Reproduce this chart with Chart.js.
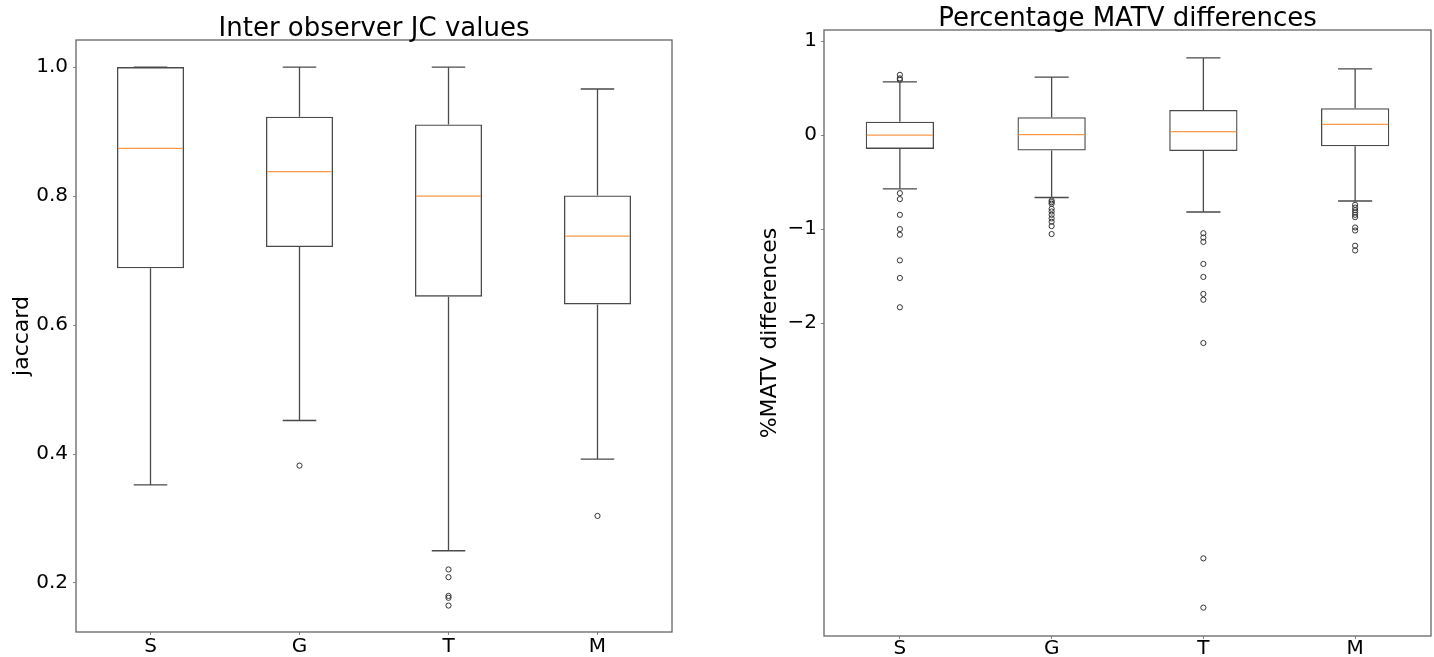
<!DOCTYPE html>
<html>
<head>
<meta charset="utf-8">
<script src="https://cdn.jsdelivr.net/npm/chart.js@4.4.1/dist/chart.umd.min.js"></script>
<style>
  html, body { margin: 0; padding: 0; background: #fff; overflow: hidden; }
  canvas { position: absolute; top: 0; }
  #jcChart { left: 0; }
  #matvChart { left: 717px; }
</style>
</head>
<body>
<canvas id="jcChart" width="717" height="657"></canvas>
<canvas id="matvChart" width="740" height="657"></canvas>
<script>
const categories = ['S', 'G', 'T', 'M'];

// Inter observer JC values
const jcQ1 = [0.688, 0.721, 0.644, 0.632];
const jcQ3 = [1.000, 0.923, 0.911, 0.801];
const jcMedian = [0.874, 0.838, 0.800, 0.738];
const jcWhiskerLow = [0.352, 0.452, 0.250, 0.392];
const jcWhiskerHigh = [1.000, 1.000, 1.000, 0.966];
const jcOutliers = [
  [],
  [0.382],
  [0.221, 0.209, 0.180, 0.177, 0.165],
  [0.304]
];
const jcTicks = [0.2, 0.4, 0.6, 0.8, 1.0];
const jcTickLabels = ['0.2', '0.4', '0.6', '0.8', '1.0'];

// Percentage MATV differences
const matvQ1 = [-0.145, -0.163, -0.167, -0.117];
const matvQ3 = [0.144, 0.191, 0.269, 0.287];
const matvMedian = [0.002, 0.007, 0.038, 0.117];
const matvWhiskerLow = [-0.571, -0.662, -0.816, -0.699];
const matvWhiskerHigh = [0.569, 0.619, 0.824, 0.707];
const matvOutliers = [
  [0.643, 0.605, 0.590, -0.616, -0.679, -0.846, -0.998, -1.058, -1.331, -1.518, -1.830],
  [-0.694, -0.711, -0.729, -0.782, -0.811, -0.846, -0.885, -0.920, -0.966, -1.051],
  [-1.042, -1.088, -1.134, -1.369, -1.507, -1.688, -1.750, -2.210, -4.501, -5.025],
  [-0.740, -0.769, -0.797, -0.822, -0.846, -0.871, -0.981, -1.013, -1.175, -1.225]
];
const matvTicks = [-2, -1, 0, 1];
const matvTickLabels = ['\u22122', '\u22121', '0', '1'];

const FONT = "'DejaVu Sans', sans-serif";
const LINE = '#4a4a4a';

// whiskers, caps, medians, the frame and the title
function boxExtras(cfg) {
  return {
    id: 'boxExtras',
    afterDatasetsDraw(chart) {
      const ctx = chart.ctx;
      const y = chart.scales.y;
      const area = chart.chartArea;
      const bars = chart.getDatasetMeta(0).data;
      ctx.save();
      bars.forEach((bar, i) => {
        const cx = bar.x, half = bar.width / 2, cap = bar.width / 4;
        const hi = y.getPixelForValue(cfg.hi[i]);
        const lo = y.getPixelForValue(cfg.lo[i]);
        ctx.strokeStyle = LINE;
        ctx.lineWidth = 1.3;
        ctx.beginPath();
        ctx.moveTo(cx, y.getPixelForValue(cfg.q3[i]));
        ctx.lineTo(cx, hi);
        ctx.moveTo(cx, y.getPixelForValue(cfg.q1[i]));
        ctx.lineTo(cx, lo);
        ctx.moveTo(cx - cap, hi);
        ctx.lineTo(cx + cap, hi);
        ctx.moveTo(cx - cap, lo);
        ctx.lineTo(cx + cap, lo);
        ctx.stroke();
        const med = y.getPixelForValue(cfg.median[i]);
        ctx.strokeStyle = '#fb9a4a';
        ctx.beginPath();
        ctx.moveTo(cx - half + 1, med);
        ctx.lineTo(cx + half - 1, med);
        ctx.stroke();
      });
      ctx.strokeStyle = '#666';
      ctx.lineWidth = 1.3;
      ctx.strokeRect(area.left, area.top, area.right - area.left, area.bottom - area.top);
      ctx.fillStyle = '#000';
      ctx.font = '26px ' + FONT;
      ctx.textAlign = 'center';
      ctx.textBaseline = 'alphabetic';
      ctx.fillText(cfg.title, (area.left + area.right) / 2, area.top - 4);
      ctx.restore();
    }
  };
}

function outlierPoints(lists) {
  const pts = [];
  lists.forEach((vals, i) => vals.forEach(v => pts.push({ x: categories[i], y: v })));
  return pts;
}

function makeChart(id, cfg) {
  new Chart(document.getElementById(id), {
    type: 'bar',
    data: {
      labels: categories,
      datasets: [{
        data: cfg.q1.map((v, i) => [v, cfg.q3[i]]),
        backgroundColor: 'rgba(0,0,0,0)',
        borderColor: LINE,
        borderWidth: 1.3,
        borderSkipped: false,
        barPercentage: 0.45,
        categoryPercentage: 1
      }, {
        type: 'line',
        data: outlierPoints(cfg.outliers),
        showLine: false,
        pointRadius: 2.6,
        pointBorderWidth: 1,
        pointBorderColor: '#333',
        pointBackgroundColor: 'rgba(0,0,0,0)'
      }]
    },
    options: {
      responsive: false,
      animation: false,
      layout: { padding: cfg.padding },
      plugins: { legend: { display: false }, tooltip: { enabled: false } },
      scales: {
        x: {
          offset: true,
          grid: { offset: false, drawOnChartArea: false, tickLength: 3, tickColor: '#888' },
          border: { display: false },
          ticks: { font: { family: FONT, size: 20 }, color: '#000', padding: cfg.xPad },
          afterFit: s => { s.height = cfg.xHeight; }
        },
        y: {
          min: cfg.min,
          max: cfg.max,
          grid: { drawOnChartArea: false, tickLength: 3, tickColor: '#888' },
          border: { display: false },
          afterBuildTicks: s => { s.ticks = cfg.ticks.map(v => ({ value: v })); },
          ticks: {
            font: { family: FONT, size: 20 },
            color: '#000',
            padding: cfg.yPad,
            callback: (v, idx) => cfg.tickLabels[idx]
          },
          title: {
            display: true,
            text: cfg.yTitle,
            font: { family: FONT, size: 22 },
            color: '#000',
            padding: { top: cfg.yTitlePad, bottom: 0 }
          },
          afterFit: s => { s.width = cfg.yWidth; }
        }
      }
    },
    plugins: [boxExtras(cfg)]
  });
}

makeChart('jcChart', {
  title: 'Inter observer JC values',
  yTitle: 'jaccard',
  q1: jcQ1, q3: jcQ3, median: jcMedian, lo: jcWhiskerLow, hi: jcWhiskerHigh,
  outliers: jcOutliers,
  ticks: jcTicks, tickLabels: jcTickLabels,
  min: 0.124, max: 1.042,
  padding: { top: 40, right: 45, left: 0, bottom: 0 },
  xHeight: 25, yWidth: 76, yTitlePad: 9, xPad: 0, yPad: 5
});

makeChart('matvChart', {
  title: 'Percentage MATV differences',
  yTitle: '%MATV differences',
  q1: matvQ1, q3: matvQ3, median: matvMedian, lo: matvWhiskerLow, hi: matvWhiskerHigh,
  outliers: matvOutliers,
  ticks: matvTicks, tickLabels: matvTickLabels,
  min: -5.327, max: 1.120,
  padding: { top: 30, right: 26, left: 0, bottom: 0 },
  xHeight: 21, yWidth: 107, yTitlePad: 40, xPad: -2, yPad: 4
});
</script>
</body>
</html>
